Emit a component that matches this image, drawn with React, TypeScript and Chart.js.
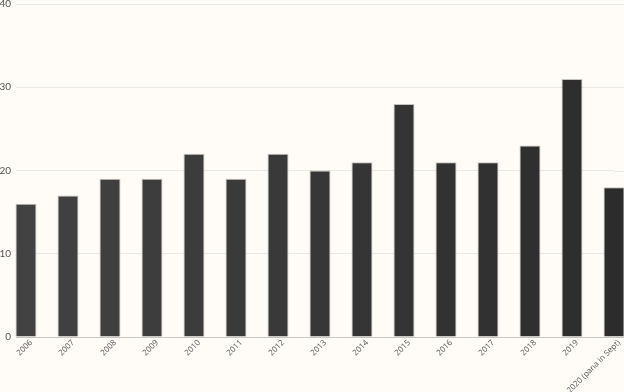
import React, { useEffect, useRef } from "react";
import { Chart, registerables } from "chart.js";

Chart.register(...registerables);

const categories = [
  "2006", "2007", "2008", "2009", "2010", "2011", "2012", "2013",
  "2014", "2015", "2016", "2017", "2018", "2019", "2020 (pana in Sept)",
];
const values = [16, 17, 19, 19, 22, 19, 22, 20, 21, 28, 21, 21, 23, 31, 18];
const yTicks = [0, 10, 20, 30, 40];

const BG = "#fffcf7";
const GRID = "#ebe8e2";
const ZERO = "#c9c7c2";

function lerpColor(a: number[], b: number[], t: number) {
  const c = a.map((v, i) => Math.round(v + (b[i] - v) * t));
  return `rgb(${c[0]},${c[1]},${c[2]})`;
}

const gridExtend = {
  id: "gridExtend",
  beforeDatasetsDraw(chart: any) {
    const { ctx, chartArea } = chart;
    const y = chart.scales.y;
    ctx.save();
    ctx.lineWidth = 1;
    y.ticks.forEach((t: any) => {
      const py = Math.round(y.getPixelForValue(t.value)) + 0.5;
      ctx.strokeStyle = t.value === 0 ? ZERO : GRID;
      ctx.beginPath();
      ctx.moveTo(chartArea.right, py);
      ctx.lineTo(chart.width, py);
      ctx.stroke();
    });
    ctx.restore();
  },
};

const bgPlugin = {
  id: "bg",
  beforeDraw(chart: any) {
    const { ctx } = chart;
    ctx.save();
    ctx.fillStyle = BG;
    ctx.fillRect(0, 0, chart.width, chart.height);
    ctx.restore();
  },
};

export default function App() {
  const ref = useRef<HTMLCanvasElement>(null);
  useEffect(() => {
    document.body.style.margin = "0";
    document.body.style.background = BG;
    const n = values.length;
    const colors = values.map((_, i) => lerpColor([66, 66, 66], [44, 44, 44], i / (n - 1)));
    const chart = new Chart(ref.current!, {
      type: "bar",
      data: {
        labels: categories,
        datasets: [
          {
            data: values,
            backgroundColor: colors,
            borderColor: "rgba(150,150,150,0.55)",
            borderWidth: 1,
            barPercentage: 0.5,
            categoryPercentage: 1,
            clip: false as any,
          },
        ],
      },
      options: {
        animation: false,
        responsive: false,
        maintainAspectRatio: false,
        layout: { padding: { top: 4, right: 10, left: 0, bottom: 0 } },
        plugins: { legend: { display: false }, tooltip: { enabled: false } },
        scales: {
          x: {
            offset: false,
            grid: { display: false, drawTicks: false },
            border: { display: false },
            ticks: {
              maxRotation: 45,
              minRotation: 45,
              autoSkip: false,
              padding: 1,
              labelOffset: 5,
              color: "#555",
              font: { family: "Open Sans", size: 8 },
            },
            afterFit: (s: any) => {
              s.height = 55;
              s.paddingLeft = 0;
              s.paddingRight = 0;
            },
          },
          y: {
            min: 0,
            max: 40,
            afterBuildTicks: (s: any) => {
              s.ticks = yTicks.map((v) => ({ value: v }));
            },
            grid: {
              color: (c: any) => (c.tick && c.tick.value === 0 ? ZERO : GRID),
              tickLength: 10,
              lineWidth: 1,
            },
            border: { display: false },
            ticks: {
              padding: 5,
              color: "#555",
              font: { family: "Lato", size: 10 },
            },
            afterFit: (s: any) => {
              s.width = 26;
              s.paddingTop = 0;
              s.paddingBottom = 0;
            },
          },
        },
      },
      plugins: [bgPlugin, gridExtend],
    });
    return () => chart.destroy();
  }, []);
  return <canvas ref={ref} width={624} height={392} style={{ display: "block" }} />;
}
